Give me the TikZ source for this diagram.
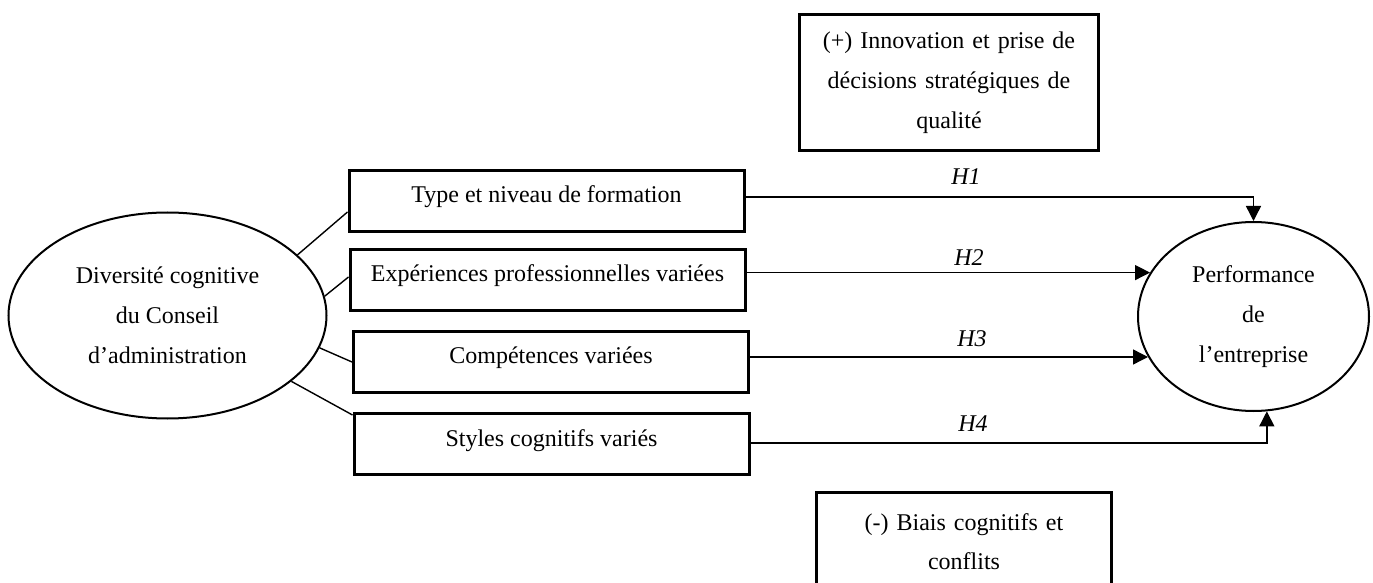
\documentclass[tikz,border=0pt]{standalone}
\usepackage{fontspec}
\setmainfont{Liberation Serif}
\usetikzlibrary{arrows.meta,shapes.geometric,calc}
\begin{document}
\begin{tikzpicture}[x=0.5pt,y=-0.5pt,
  every node/.style={font=\fontsize{12}{20}\selectfont},
  box/.style={draw, line width=1.5pt, rectangle, minimum width=197.5pt, minimum height=30.5pt, inner sep=0pt, text height=8pt, text depth=6pt},
  tbox/.style={draw, line width=1.5pt, rectangle, align=center, inner xsep=0pt, inner ysep=8.6pt},
  ell/.style={draw, ellipse, line width=1pt, inner sep=0pt, align=center},
  link/.style={line width=0.7pt},
  arr/.style={line width=0.7pt, -{Triangle[length=7.5pt,width=7.5pt]}},
  hyp/.style={font=\fontsize{12}{20}\selectfont\itshape, inner sep=0pt, anchor=base}]
\useasboundingbox (0,0) rectangle (1373,583);
\clip (0,0) rectangle (1373,583);

% ellipses
\node[ell, minimum width=159pt, minimum height=103pt] (L) at (167.5,315.5) {Diversité cognitive\\du Conseil\\d’administration};
\node[ell, minimum width=115.5pt, minimum height=94.5pt] (R) at (1253.5,316.5) {Performance\\de\\l’entreprise};

% boxes
\node[box] (b1) at (546.5,201) {Type et niveau de formation};
\node[box] (b2) at (547.5,280) {Expériences professionnelles variées};
\node[box] (b3) at (551,362) {Compétences variées};
\node[box] (b4) at (551.5,444) {Styles cognitifs variés};

% text boxes
\node[tbox, text width=149.5pt] (top) at (949,82.5) {(+) Innovation et prise de\\décisions stratégiques de\\qualité};
\node[tbox, text width=147.5pt, inner ysep=10.3pt, anchor=north] (bot) at (964,491) {(-) Biais cognitifs et\\conflits};

% links
\draw[link] (L.25) -- ([yshift=-5.5pt]b1.west);
\draw[link] (L.7) -- ([yshift=1.5pt]b2.west);
\draw[link] (L.-12.7) -- (b3.west);
\draw[link] (L.-28.7) -- ([yshift=14.5pt]b4.west);

% hypotheses
\draw[arr] ([yshift=2pt]b1.east) -| (R.north);
\draw[arr] (b2.east |- R.157.2) -- (R.157.2);
\draw[arr] (b3.east |- R.201) -- (R.201);
\draw[arr] ([yshift=0.5pt]b4.east) -| (R.278.7);

\node[hyp] (h1) at (966,185) {H1};
\node[hyp] (h2) at (969,265) {H2};
\node[hyp] (h3) at (972,346) {H3};
\node[hyp] (h4) at (973,431) {H4};
\end{tikzpicture}
\end{document}
